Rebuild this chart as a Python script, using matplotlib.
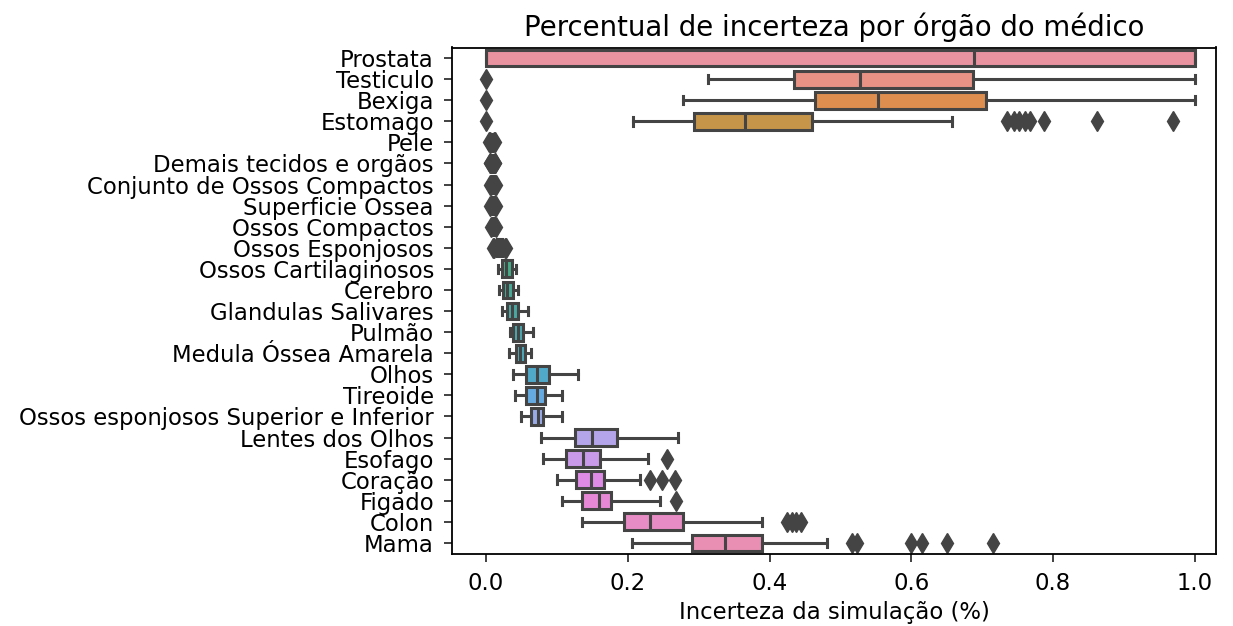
import colorsys
import matplotlib
matplotlib.use("Agg")
import matplotlib.pyplot as plt
import seaborn as sns

categories = ["Prostata", "Testiculo", "Bexiga", "Estomago", "Pele",
              "Demais tecidos e orgãos", "Conjunto de Ossos Compactos",
              "Superficie Ossea", "Ossos Compactos", "Ossos Esponjosos",
              "Ossos Cartilaginosos", "Cerebro", "Glandulas Salivares",
              "Pulmão", "Medula Óssea Amarela", "Olhos", "Tireoide",
              "Ossos esponjosos Superior e Inferior", "Lentes dos Olhos",
              "Esofago", "Coração", "Figado", "Colon", "Mama"]

whislo = [0.0, 0.313, 0.278, 0.208, 0.006, 0.007, 0.008, 0.008, 0.008, 0.013,
          0.017, 0.018, 0.023, 0.034, 0.032, 0.038, 0.041, 0.050, 0.078,
          0.081, 0.100, 0.107, 0.136, 0.206]
q1 = [0.0, 0.435, 0.464, 0.294, 0.007, 0.008, 0.009, 0.009, 0.0095, 0.016,
      0.022, 0.024, 0.029, 0.038, 0.042, 0.057, 0.056, 0.064, 0.125,
      0.113, 0.127, 0.136, 0.195, 0.290]
med = [0.689, 0.527, 0.553, 0.366, 0.008, 0.009, 0.010, 0.010, 0.0105, 0.019,
       0.028, 0.029, 0.036, 0.045, 0.048, 0.072, 0.072, 0.073, 0.149,
       0.137, 0.148, 0.160, 0.231, 0.337]
q3 = [1.0, 0.687, 0.705, 0.460, 0.009, 0.010, 0.011, 0.011, 0.0115, 0.022,
      0.036, 0.038, 0.045, 0.052, 0.055, 0.089, 0.083, 0.081, 0.185,
      0.161, 0.167, 0.176, 0.278, 0.389]
whishi = [1.0, 1.0, 1.0, 0.658, 0.010, 0.011, 0.012, 0.012, 0.013, 0.025,
          0.042, 0.045, 0.059, 0.066, 0.064, 0.130, 0.107, 0.107, 0.271,
          0.228, 0.217, 0.245, 0.390, 0.481]
fliers = [[], [0.0], [0.0],
          [0.0, 0.735, 0.745, 0.752, 0.760, 0.768, 0.787, 0.862, 0.970],
          [0.004, 0.005, 0.011, 0.012], [0.005, 0.006, 0.012, 0.013],
          [0.006, 0.007, 0.013, 0.014], [0.006, 0.013, 0.014],
          [0.0065, 0.014], [0.010, 0.011, 0.027, 0.028],
          [], [], [], [], [], [], [], [], [],
          [0.255], [0.232, 0.248, 0.267], [0.268],
          [0.425, 0.432, 0.438, 0.445],
          [0.517, 0.524, 0.600, 0.615, 0.650, 0.716]]

title = "Percentual de incerteza por órgão do médico"
xlabel = "Incerteza da simulação (%)"
xticks = [0.0, 0.2, 0.4, 0.6, 0.8, 1.0]

palette = [sns.desaturate(c, 0.75) for c in sns.husl_palette(len(categories), s=0.9, l=0.69)]
lum = min(colorsys.rgb_to_hls(*c)[1] for c in palette) * 0.6
gray = (lum, lum, lum)

fig = plt.figure(figsize=(12.33, 6.26), dpi=100)
ax = fig.add_axes([452 / 1233, 1 - 553.5 / 626, (1216 - 452) / 1233, (553.5 - 47.5) / 626])

stats = []
for i, name in enumerate(categories):
    stats.append(dict(label=name, whislo=whislo[i], q1=q1[i], med=med[i],
                      q3=q3[i], whishi=whishi[i], fliers=fliers[i]))

lw = 2.2
bp = ax.bxp(stats, positions=list(range(len(categories))), vert=False,
            widths=0.8, patch_artist=True,
            boxprops=dict(edgecolor=gray, linewidth=lw),
            medianprops=dict(color=gray, linewidth=lw),
            whiskerprops=dict(color=gray, linewidth=lw),
            capprops=dict(color=gray, linewidth=lw),
            flierprops=dict(marker="d", markerfacecolor=gray, markeredgecolor=gray,
                            markersize=10.5, linestyle="none"))
for patch, c in zip(bp["boxes"], palette):
    patch.set_facecolor(c)

fs = 16.4
ax.set_ylim(len(categories) - 0.5, -0.5)
ax.set_xlim(-0.048, 1.03)
ax.set_yticks(range(len(categories)))
ax.set_yticklabels(categories, fontsize=fs)
ax.set_xticks(xticks)
ax.set_xticklabels([f"{t:.1f}" for t in xticks], fontsize=fs)
ax.tick_params(axis="both", length=6, width=1.3, pad=7, color="#333333")
ax.set_xlabel(xlabel, fontsize=fs, labelpad=5)
ax.set_title(title, fontsize=19.8, pad=8)
for s in ax.spines.values():
    s.set_linewidth(1.3)

fig.savefig("out.png", dpi=100)
